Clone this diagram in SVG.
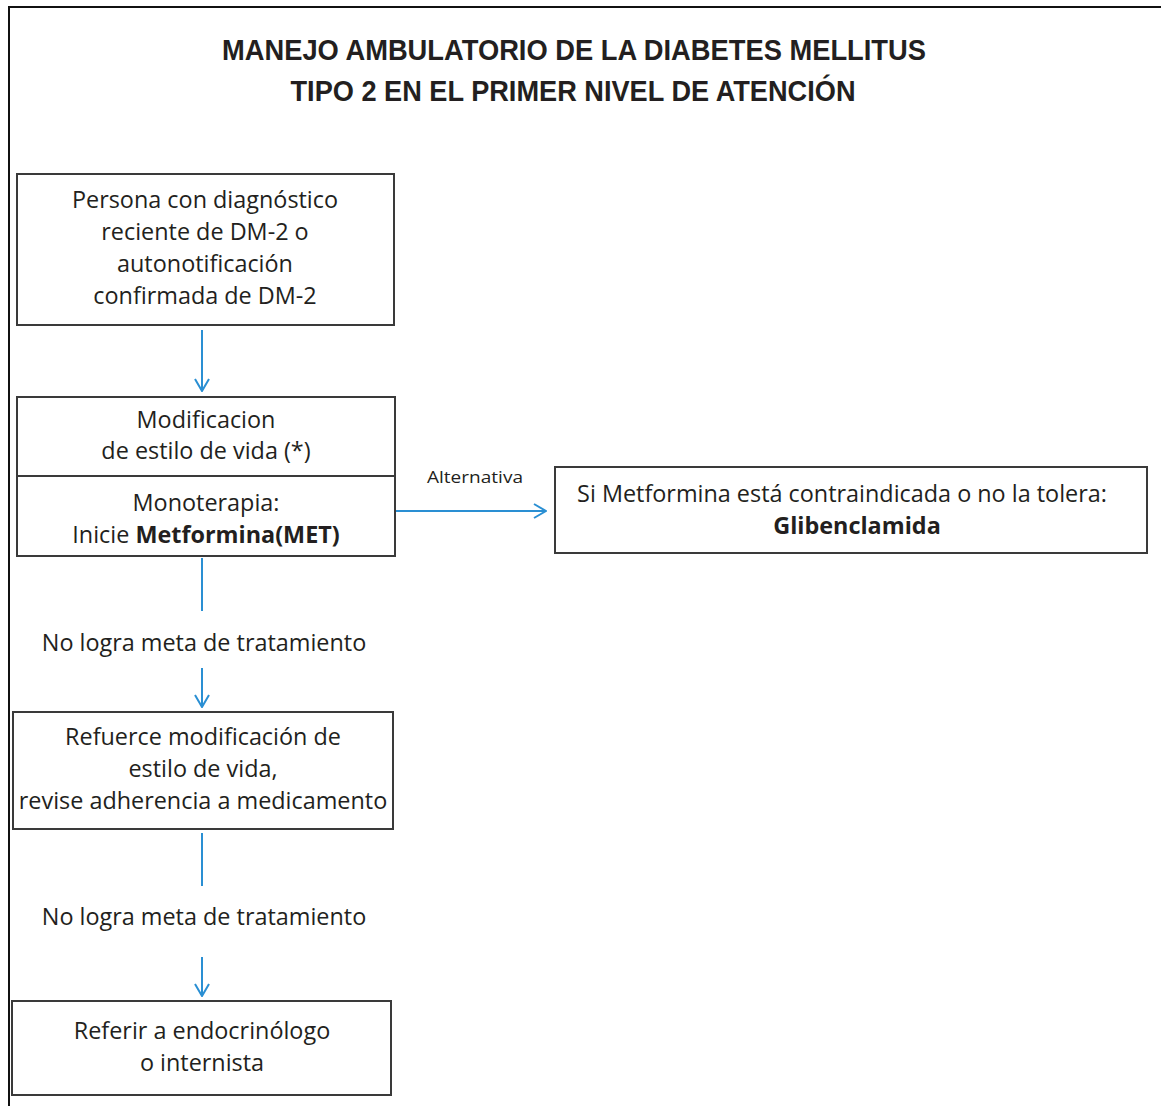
<svg xmlns="http://www.w3.org/2000/svg" width="1161" height="1106" viewBox="0 0 1161 1106">
<style>
.box{fill:#fff;stroke:#3a3a3a;stroke-width:2}
.t{font-family:"Open Sans","Liberation Sans",sans-serif;font-size:23.4px;fill:#231f20;text-anchor:middle}
.b{font-weight:bold}
.title{font-family:"Liberation Sans",sans-serif;font-weight:bold;font-size:29px;fill:#231f20;text-anchor:middle}
.c{fill:none;stroke:#2a8fd3;stroke-width:2}
</style>
<defs>
<marker id="ah" viewBox="0 0 14 16" refX="13" refY="8" markerWidth="14" markerHeight="16" markerUnits="userSpaceOnUse" orient="auto">
<path d="M1,1 L13,8 L1,15" fill="none" stroke="#2a8fd3" stroke-width="2"/>
</marker>
</defs>
<rect width="1161" height="1106" fill="#fff"/>
<g id="frame"><path d="M9,1106 V7 H1161" fill="none" stroke="#111" stroke-width="2"/></g>
<g id="title">
<text class="title" x="574" y="60" textLength="704" lengthAdjust="spacingAndGlyphs">MANEJO AMBULATORIO DE LA DIABETES MELLITUS</text>
<text class="title" x="573" y="101" textLength="565" lengthAdjust="spacingAndGlyphs">TIPO 2 EN EL PRIMER NIVEL DE ATENCIÓN</text>
</g>
<g id="connectors">
<line class="c" x1="202" y1="330" x2="202" y2="391" marker-end="url(#ah)"/>
<line class="c" x1="395" y1="511" x2="546" y2="511" marker-end="url(#ah)"/>
<line class="c" x1="202" y1="558" x2="202" y2="611"/>
<line class="c" x1="202" y1="668" x2="202" y2="707" marker-end="url(#ah)"/>
<line class="c" x1="202" y1="833" x2="202" y2="886"/>
<line class="c" x1="202" y1="957" x2="202" y2="996" marker-end="url(#ah)"/>
<text class="t" x="475" y="483" style="font-size:17px" textLength="96" lengthAdjust="spacingAndGlyphs">Alternativa</text>
<text class="t" x="204" y="651">No logra meta de tratamiento</text>
<text class="t" x="204" y="925">No logra meta de tratamiento</text>
</g>
<g id="n1">
<rect class="box" x="17" y="174" width="377" height="151"/>
<text class="t" x="205" y="208">Persona con diagnóstico</text>
<text class="t" x="205" y="240">reciente de DM-2 o</text>
<text class="t" x="205" y="272">autonotificación</text>
<text class="t" x="205" y="304">confirmada de DM-2</text>
</g>
<g id="n2">
<rect class="box" x="17" y="397" width="378" height="159"/>
<line x1="17" y1="476" x2="395" y2="476" stroke="#3a3a3a" stroke-width="2"/>
<text class="t" x="206" y="428">Modificacion</text>
<text class="t" x="206" y="459">de estilo de vida (*)</text>
<text class="t" x="206" y="511">Monoterapia:</text>
<text class="t" x="206" y="543">Inicie <tspan class="b">Metformina(MET)</tspan></text>
</g>
<g id="n3">
<rect class="box" x="555" y="467" width="592" height="86"/>
<text class="t" x="842" y="502">Si Metformina está contraindicada o no la tolera:</text>
<text class="t b" x="857" y="534">Glibenclamida</text>
</g>
<g id="n4">
<rect class="box" x="13" y="712" width="380" height="117"/>
<text class="t" x="203" y="745">Refuerce modificación de</text>
<text class="t" x="203" y="777">estilo de vida,</text>
<text class="t" x="203" y="809">revise adherencia a medicamento</text>
</g>
<g id="n5">
<rect class="box" x="12" y="1001" width="379" height="94"/>
<text class="t" x="202" y="1039">Referir a endocrinólogo</text>
<text class="t" x="202" y="1071">o internista</text>
</g>
</svg>
